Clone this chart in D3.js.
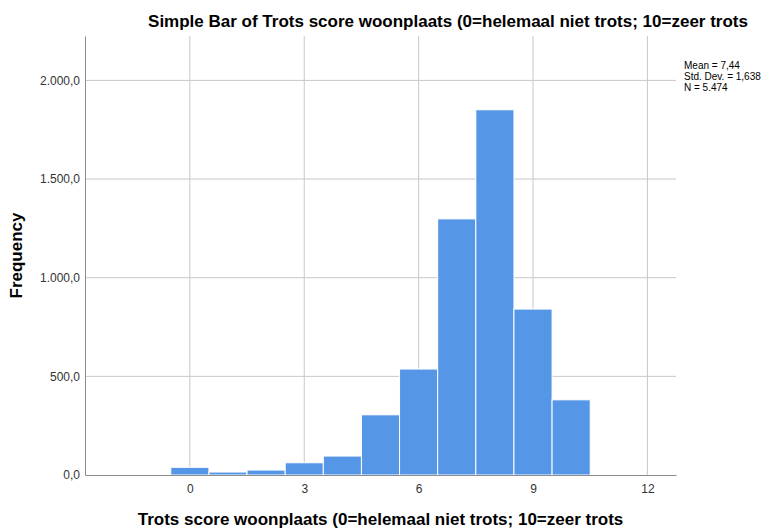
<!DOCTYPE html>
<html>
<head>
<meta charset="utf-8">
<script src="https://cdn.jsdelivr.net/npm/d3@7"></script>
<style>
  body { margin: 0; background: #fff; }
  text { font-family: "Liberation Sans", Arial, sans-serif; }
</style>
</head>
<body>
<svg id="chart"></svg>
<script>
// scores and their frequencies
const scores = [0, 1, 2, 3, 4, 5, 6, 7, 8, 9, 10];
const counts = [39, 15, 25, 62, 96, 305, 537, 1298, 1851, 841, 381];
const xTicks = [0, 3, 6, 9, 12];
const yTicks = [0, 500, 1000, 1500, 2000];
const statsLines = ["Mean = 7,44", "Std. Dev. = 1,638", "N = 5.474"];

const title = "Simple Bar of Trots score woonplaats (0=helemaal niet trots; 10=zeer trots";
const xTitle = "Trots score woonplaats (0=helemaal niet trots; 10=zeer trots";
const yTitle = "Frequency";

const width = 777, height = 528;
const margin = { top: 36, right: 101, bottom: 53, left: 85 };
const innerW = width - margin.left - margin.right;
const innerH = height - margin.top - margin.bottom;

const nl = d3.formatLocale({ decimal: ",", thousands: ".", grouping: [3], currency: ["", ""] });
const fmt = nl.format(",.1f");

const svg = d3.select("#chart").attr("width", width).attr("height", height);
const g = svg.append("g").attr("transform", `translate(${margin.left},${margin.top})`);

const x = d3.scaleLinear().domain([-2.75, 12.75]).range([0, innerW]);
const y = d3.scaleLinear().domain([0, 2225]).range([innerH, 0]);

// grid lines
g.append("g")
  .selectAll("line")
  .data(yTicks.slice(1))
  .join("line")
  .attr("x1", 0)
  .attr("x2", innerW)
  .attr("y1", (d) => y(d))
  .attr("y2", (d) => y(d))
  .attr("stroke", "#c8c8c8")
  .attr("stroke-width", 1);

g.append("g")
  .selectAll("line")
  .data(xTicks)
  .join("line")
  .attr("x1", (d) => x(d))
  .attr("x2", (d) => x(d))
  .attr("y1", 0)
  .attr("y2", innerH)
  .attr("stroke", "#c8c8c8")
  .attr("stroke-width", 1);

// bars
g.append("g")
  .selectAll("rect")
  .data(scores)
  .join("rect")
  .attr("x", (d) => x(d - 0.5))
  .attr("width", (d) => x(d + 0.5) - x(d - 0.5))
  .attr("y", (d, i) => y(counts[i]))
  .attr("height", (d, i) => innerH - y(counts[i]))
  .attr("fill", "#5596e6")
  .attr("stroke", "#ffffff")
  .attr("stroke-width", 1);

// axes
const xAxis = g.append("g")
  .attr("transform", `translate(0,${innerH})`)
  .call(d3.axisBottom(x).tickValues(xTicks).tickSize(0).tickPadding(9).tickFormat(d3.format("d")));
xAxis.select(".domain").attr("stroke", "#8c8c8c");
xAxis.selectAll("text").attr("font-size", 12).attr("fill", "#333");

const yAxis = g.append("g")
  .call(d3.axisLeft(y).tickValues(yTicks).tickSize(0).tickPadding(5).tickFormat(fmt));
yAxis.select(".domain").attr("stroke", "#8c8c8c");
yAxis.selectAll("text").attr("font-size", 12).attr("fill", "#333");

// titles
svg.append("text")
  .attr("x", 448)
  .attr("y", 27)
  .attr("text-anchor", "middle")
  .attr("font-size", 17)
  .attr("font-weight", "bold")
  .attr("fill", "#000")
  .text(title);

svg.append("text")
  .attr("x", margin.left + innerW / 2)
  .attr("y", 525)
  .attr("text-anchor", "middle")
  .attr("font-size", 17)
  .attr("font-weight", "bold")
  .attr("fill", "#000")
  .text(xTitle);

svg.append("text")
  .attr("transform", `translate(22,${margin.top + innerH / 2}) rotate(-90)`)
  .attr("text-anchor", "middle")
  .attr("font-size", 17)
  .attr("font-weight", "bold")
  .attr("fill", "#000")
  .text(yTitle);

// stats box
svg.append("g")
  .selectAll("text")
  .data(statsLines)
  .join("text")
  .attr("x", 684)
  .attr("y", (d, i) => 69 + i * 11)
  .attr("font-size", 10)
  .attr("fill", "#000")
  .text((d) => d);
</script>
</body>
</html>
